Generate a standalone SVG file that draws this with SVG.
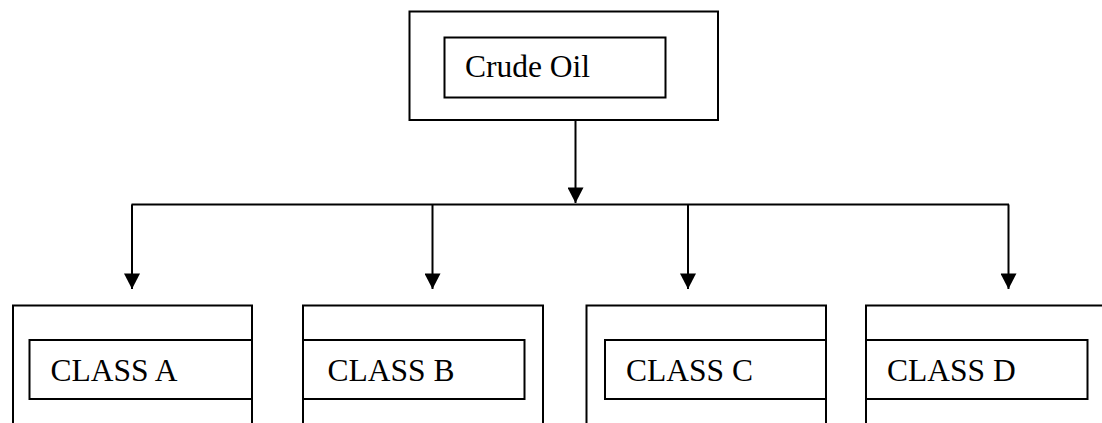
<svg xmlns="http://www.w3.org/2000/svg" width="1102" height="423" viewBox="0 0 1102 423">
<style>
.box{fill:none;stroke:#000;stroke-width:2}
.lbl{font-family:"Liberation Serif","Times New Roman",serif;font-size:31.5px;fill:#000}
.conn{fill:none;stroke:#000;stroke-width:2}
</style>
<defs>
<marker id="ah" markerUnits="userSpaceOnUse" markerWidth="16" markerHeight="16" viewBox="0 0 15 15.5" refX="15" refY="7.75" orient="auto">
<path d="M0,0 L15,7.75 L0,15.5 Z" fill="#000"/>
</marker>
</defs>
<rect width="1102" height="423" fill="#fff"/>
<g id="crude-oil">
<rect class="box" x="409.5" y="11.5" width="308.5" height="108.5"/>
<rect class="box" x="444.5" y="37.5" width="221" height="60"/>
<text class="lbl" x="465" y="77">Crude Oil</text>
</g>
<g id="connectors">
<line class="conn" x1="575.5" y1="120" x2="575.5" y2="203" marker-end="url(#ah)"/>
<line class="conn" x1="131.5" y1="204.5" x2="1009" y2="204.5"/>
<line class="conn" x1="132" y1="204.5" x2="132" y2="289" marker-end="url(#ah)"/>
<line class="conn" x1="432.5" y1="204.5" x2="432.5" y2="289" marker-end="url(#ah)"/>
<line class="conn" x1="688" y1="204.5" x2="688" y2="289" marker-end="url(#ah)"/>
<line class="conn" x1="1008.5" y1="204.5" x2="1008.5" y2="289" marker-end="url(#ah)"/>
</g>
<g id="class-a">
<path class="box" d="M13,423 V305.5 H252 V423"/>
<rect class="box" x="29.5" y="340" width="222.5" height="59"/>
<text class="lbl" x="50.5" y="380.5">CLASS A</text>
</g>
<g id="class-b">
<path class="box" d="M303,423 V305.5 H543 V423"/>
<rect class="box" x="303" y="340" width="221.5" height="59"/>
<text class="lbl" x="327.5" y="380.5">CLASS B</text>
</g>
<g id="class-c">
<path class="box" d="M586.5,423 V305.5 H826 V423"/>
<rect class="box" x="605" y="340" width="221" height="59"/>
<text class="lbl" x="626" y="380.5">CLASS C</text>
</g>
<g id="class-d">
<path class="box" d="M866,423 V305.5 H1103"/>
<rect class="box" x="866" y="340" width="221.5" height="59"/>
<text class="lbl" x="887" y="380.5">CLASS D</text>
</g>
</svg>
